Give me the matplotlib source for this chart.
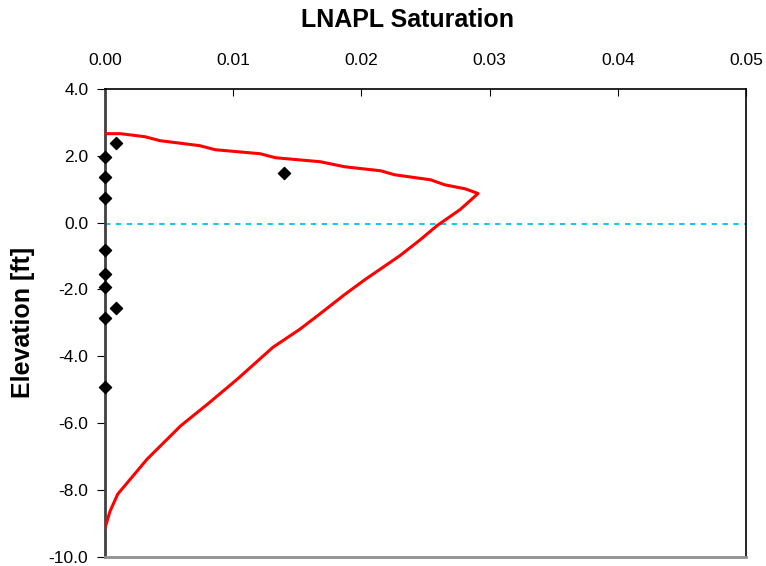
import numpy as np
import matplotlib
matplotlib.use('Agg')
import matplotlib.pyplot as plt

plt.rcParams['font.family'] = ['Liberation Sans', 'DejaVu Sans']

# modelled LNAPL saturation profile (red curve)
model_sat = [0.0, 0.0012, 0.0031, 0.0043, 0.0074, 0.0086, 0.0121, 0.0133, 0.0168,
             0.0187, 0.0215, 0.0226, 0.0254, 0.0265, 0.0281, 0.0291, 0.0277, 0.0259,
             0.0246, 0.0230, 0.0203, 0.0187, 0.0168, 0.0152, 0.0131, 0.0103, 0.0080,
             0.0059, 0.0033, 0.0010, 0.0004, 0.0]
model_elev = [2.66, 2.66, 2.57, 2.45, 2.30, 2.18, 2.06, 1.94, 1.82,
              1.67, 1.55, 1.43, 1.28, 1.13, 1.01, 0.87, 0.39, -0.09,
              -0.51, -0.99, -1.70, -2.15, -2.72, -3.19, -3.73, -4.69, -5.43,
              -6.08, -7.07, -8.12, -8.63, -9.14]

# measured samples (diamonds)
meas_sat = [0.0009, 0.0, 0.0, 0.0, 0.0140, 0.0, 0.0, 0.0, 0.0009, 0.0, 0.0]
meas_elev = [2.39, 1.97, 1.37, 0.75, 1.49, -0.83, -1.54, -1.92, -2.54, -2.84, -4.93]

# vertical dotted line (x = 0) and water table
vert_sat = [0.0, 0.0]
vert_elev = [2.66, 0.0]
wt_sat = [0.0, 0.05]
wt_elev = [-0.05, -0.05]

xticks = [0.0, 0.01, 0.02, 0.03, 0.04, 0.05]
yticks = [4.0, 2.0, 0.0, -2.0, -4.0, -6.0, -8.0, -10.0]

fig = plt.figure(figsize=(7.66, 5.66), dpi=100)
ax = fig.add_axes([0.137, 0.016, 0.837, 0.827])

ax.plot(wt_sat, wt_elev, color='#00c0f0', linestyle=(0, (3, 3)), linewidth=1.3, zorder=2)
ax.plot(vert_sat, vert_elev, color='#8b0000', linestyle=(0, (2, 2)), linewidth=1.3, zorder=2)
ax.plot(model_sat, model_elev, color='red', linewidth=2.2, zorder=3)
ax.scatter(meas_sat, meas_elev, marker='D', s=38, color='black', zorder=4, clip_on=False)

ax.set_xlim(0, 0.05)
ax.set_ylim(-10, 4)
ax.set_xticks(xticks)
ax.set_xticklabels([f'{v:.2f}' for v in xticks])
ax.set_yticks(yticks)
ax.set_yticklabels([f'{v:.1f}' for v in yticks])
ax.xaxis.tick_top()
ax.tick_params(axis='x', direction='in', length=5, labelsize=12.5, pad=15)
ax.tick_params(axis='y', direction='out', length=6, labelsize=12.5, pad=6)

ax.spines['left'].set_color('#404040')
ax.spines['left'].set_linewidth(2)
ax.spines['bottom'].set_color('#909090')
ax.spines['bottom'].set_linewidth(2)
ax.spines['top'].set_linewidth(1.2)
ax.spines['right'].set_linewidth(1.2)

fig.text(407 / 766, 1 - 20 / 566, 'LNAPL Saturation', fontsize=18, fontweight='bold',
         ha='center', va='center')
fig.text(23 / 766, 0.5 * (0.016 + 0.843), 'Elevation [ft]', fontsize=18, fontweight='bold',
         rotation=90, ha='center', va='center')

fig.savefig('out.png', dpi=100)
